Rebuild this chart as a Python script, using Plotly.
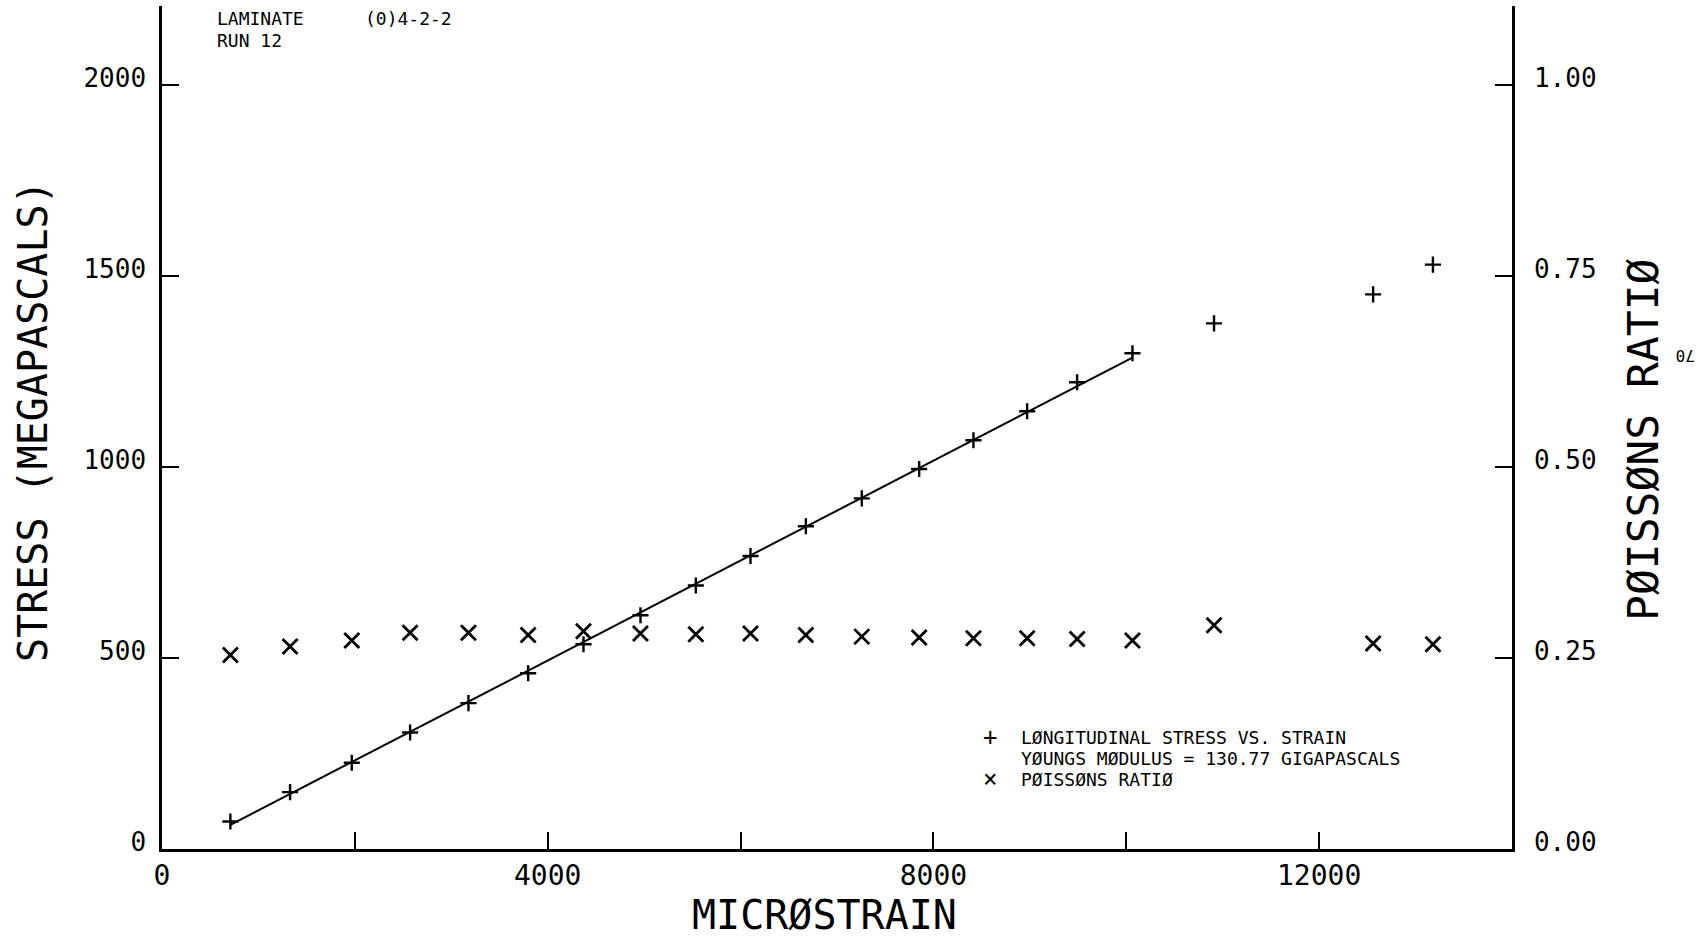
import plotly.graph_objects as go

# Canvas and plot-area geometry (pixels)
W, H = 1700, 939
ML, MR, MT, MB = 162, 188, 6, 90
PW, PH = W - ML - MR, H - MT - MB

# Test record: laminate (0)4-2-2, run 12
strain = [709, 1328, 1968, 2573, 3178, 3797, 4371, 4962, 5536, 6103,
          6677, 7257, 7852, 8415, 8972, 9490, 10064, 10910, 12560, 13180]
stress = [72, 149, 226, 305, 382, 460, 536, 612, 690, 767,
          845, 918, 995, 1070, 1146, 1222, 1298, 1376, 1452, 1530]
poisson = [0.254, 0.265, 0.273, 0.283, 0.283, 0.280, 0.285, 0.282, 0.281, 0.282,
           0.280, 0.278, 0.277, 0.276, 0.276, 0.275, 0.273, 0.293, 0.269, 0.268]

youngs_gpa = 130.77      # modulus of the linear fit
n_fit = 17               # points used for the fit

x_ticks = [0, 2000, 4000, 6000, 8000, 10000, 12000, 14000]
x_ticktext = ["0", "", "4000", "", "8000", "", "12000", ""]
y_ticks = [0, 500, 1000, 1500, 2000]
y_ticktext = ["0", "500", "1000", "1500", "2000"]
y2_ticks = [0.0, 0.25, 0.50, 0.75, 1.00]
y2_ticktext = ["0.00", "0.25", "0.50", "0.75", "1.00"]

Y_MAX = 2207
Y2_MAX = Y_MAX / 2000.0

MONO = "DejaVu Sans Mono"
INK = "black"

# Fit line: slope from the stated modulus (MPa per microstrain), through the centroid
slope = youngs_gpa / 1000.0
fx, fy = strain[:n_fit], stress[:n_fit]
intercept = sum(fy) / n_fit - slope * sum(fx) / n_fit
fit_x = [fx[0], fx[-1]]
fit_y = [slope * v + intercept for v in fit_x]

fig = go.Figure()
fig.add_trace(go.Scatter(x=fit_x, y=fit_y, mode="lines",
                         line=dict(color=INK, width=2), hoverinfo="skip"))
fig.add_trace(go.Scatter(x=strain, y=stress, mode="markers",
                         marker=dict(symbol="cross-thin", size=11.5, color=INK,
                                     line=dict(width=2.4, color=INK))))
fig.add_trace(go.Scatter(x=strain, y=poisson, mode="markers", yaxis="y2",
                         marker=dict(symbol="x-thin", size=15, color=INK,
                                     line=dict(width=2.8, color=INK))))


def px_x(x):
    return (x - ML) / PW


def px_y(y):
    return (H - MB - y) / PH


def note(text, x, y, size, font=MONO, xanchor="center", yanchor="middle", angle=0):
    fig.add_annotation(text=text, x=px_x(x), y=px_y(y), xref="paper", yref="paper",
                       showarrow=False, xanchor=xanchor, yanchor=yanchor,
                       textangle=angle, font=dict(family=font, size=size, color=INK))


# Axis titles
note("MICRØSTRAIN", 824, 915, 40)
note("STRESS (MEGAPASCALS)", 33, 421, 40, angle=-90)
note("PØISSØNS RATIØ", 1643, 440, 43, angle=-90)
note("70", 1686, 356, 16, angle=180)

# Header
note("LAMINATE", 215, 19, 18, xanchor="left")
note("(0)4-2-2", 363, 19, 18, xanchor="left")
note("RUN 12", 215, 41, 18, xanchor="left")

# Key
note("+", 990, 737, 24)
note("×", 990, 779, 24)
note("LØNGITUDINAL STRESS VS. STRAIN", 1019, 737, 18, xanchor="left")
note(f"YØUNGS MØDULUS = {youngs_gpa:.2f} GIGAPASCALS", 1019, 758, 18, xanchor="left")
note("PØISSØNS RATIØ", 1019, 779, 18, xanchor="left")

axis_common = dict(showline=True, linecolor=INK, linewidth=2.5, ticks="inside",
                   ticklen=17, tickwidth=2, tickcolor=INK, showgrid=False,
                   zeroline=False, automargin=False)

fig.update_layout(
    width=W, height=H,
    margin=dict(l=ML, r=MR, t=MT, b=MB, pad=0),
    paper_bgcolor="white", plot_bgcolor="white",
    showlegend=False,
    xaxis=dict(range=[0, 14000], tickvals=x_ticks, ticktext=x_ticktext,
               tickfont=dict(family=MONO, size=28, color=INK),
               ticklabelstandoff=0, **axis_common),
    yaxis=dict(range=[0, Y_MAX], tickvals=y_ticks, ticktext=y_ticktext,
               tickfont=dict(family=MONO, size=26, color=INK),
               ticklabelshift=-7, ticklabelstandoff=8, **axis_common),
    yaxis2=dict(range=[0, Y2_MAX], tickvals=y2_ticks, ticktext=y2_ticktext,
                overlaying="y", side="right",
                tickfont=dict(family=MONO, size=26, color=INK),
                ticklabelshift=-7, ticklabelstandoff=14, **axis_common),
)

fig.write_html("out.html")
